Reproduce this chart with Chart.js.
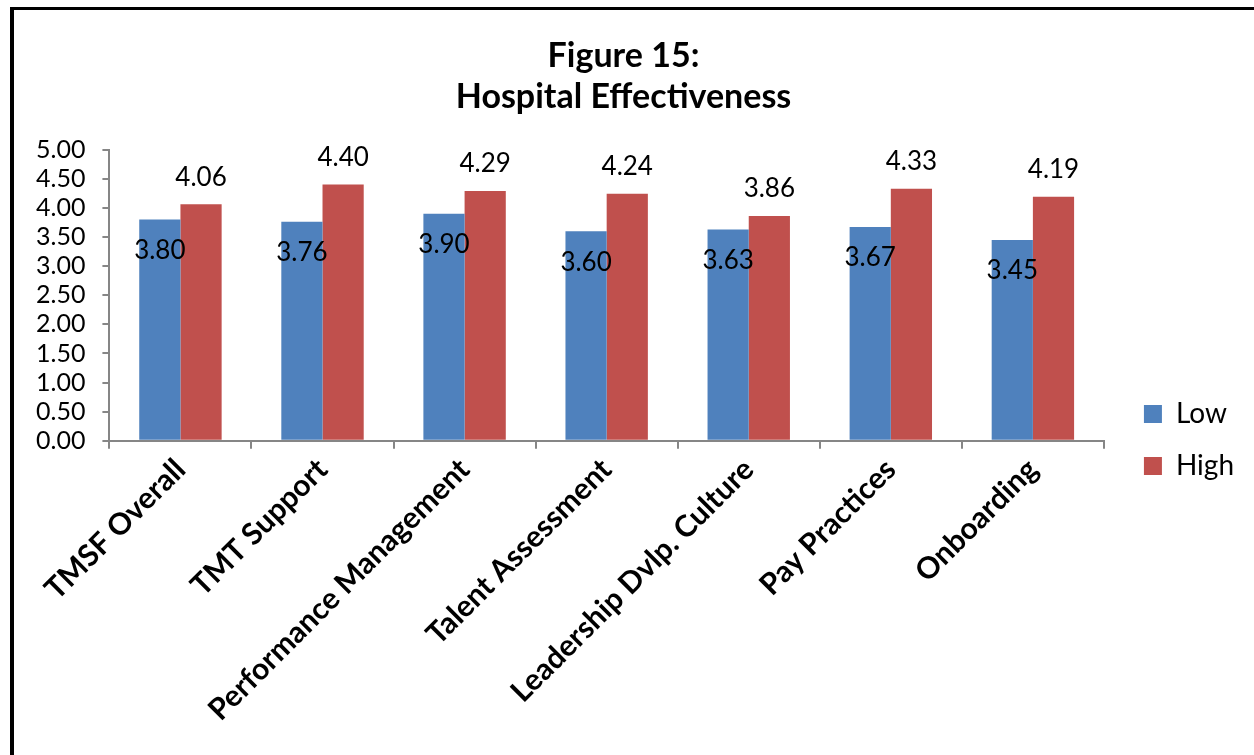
<!DOCTYPE html>
<html>
<head>
<meta charset="utf-8">
<script src="https://cdn.jsdelivr.net/npm/chart.js@4/dist/chart.umd.min.js"></script>
<style>
  body { margin: 0; background: #fff; }
  #frame {
    position: absolute; left: 10px; top: 7px;
    width: 1244px; height: 748px;
    border-top: 3px solid #000; border-left: 4px solid #000;
  }
  #wrap { position: absolute; left: 0; top: 0; width: 1240px; height: 745px; }
</style>
</head>
<body>
<div id="frame"><div id="wrap"><canvas id="myChart"></canvas></div></div>
<script>
var categories = ['TMSF Overall', 'TMT Support', 'Performance Management', 'Talent Assessment',
                  'Leadership Dvlp. Culture', 'Pay Practices', 'Onboarding'];
var lowValues = [3.80, 3.76, 3.90, 3.60, 3.63, 3.67, 3.45];
var highValues = [4.06, 4.40, 4.29, 4.24, 3.86, 4.33, 4.19];
var titleLines = ['Figure 15:', 'Hospital Effectiveness'];

var FONT = 'Lato, "Open Sans", sans-serif';

// draws the value labels (Low below the bar top, High above it)
const valueLabels = {
    id: 'valueLabels',
    afterDatasetsDraw(chart) {
        const ctx = chart.ctx;
        ctx.save();
        ctx.font = '26px ' + FONT;
        ctx.fillStyle = '#000';
        ctx.textAlign = 'center';
        ctx.textBaseline = 'middle';
        chart.data.datasets.forEach(function(ds, i) {
            const meta = chart.getDatasetMeta(i);
            meta.data.forEach(function(bar, j) {
                const off = i == 0 ? 31 : -27;
                ctx.fillText(ds.data[j].toFixed(2), bar.x, bar.y + off);
            });
        });
        ctx.restore();
    }
};

// nudge the legend away from the plot and up, like the original
const legendShift = {
    id: 'legendShift',
    afterLayout(chart) {
        chart.legend.left += 16;
        chart.legend.right += 16;
        chart.legend.top -= 227;
        chart.legend.bottom -= 227;
    }
};

const data = {
    labels: categories,
    datasets: [
        {
            label: 'Low',
            data: lowValues,
            backgroundColor: '#4F81BD',
            categoryPercentage: 0.58,
            barPercentage: 1
        },
        {
            label: 'High',
            data: highValues,
            backgroundColor: '#C0504D',
            categoryPercentage: 0.58,
            barPercentage: 1
        }
    ]
};

const config = {
    type: 'bar',
    data: data,
    plugins: [valueLabels, legendShift],
    options: {
        responsive: true,
        maintainAspectRatio: false,
        animation: false,
        layout: { padding: { left: 5, right: 26, top: 0, bottom: 24 } },
        plugins: {
            title: {
                display: true,
                text: titleLines,
                color: '#000',
                font: { family: FONT, size: 34, weight: 'bold', lineHeight: 1.2 },
                padding: { top: 26, bottom: 32 }
            },
            legend: {
                position: 'right',
                align: 'end',
                labels: {
                    color: '#000',
                    font: { family: FONT, size: 28 },
                    boxWidth: 18,
                    boxHeight: 18,
                    padding: 24
                }
            },
            tooltip: { enabled: false }
        },
        scales: {
            x: {
                grid: {
                    drawOnChartArea: false,
                    color: '#868686',
                    tickLength: 8,
                    lineWidth: 2
                },
                border: { color: '#868686', width: 2 },
                ticks: {
                    color: '#000',
                    font: { family: FONT, size: 30, weight: 'bold' },
                    minRotation: 45,
                    maxRotation: 45,
                    autoSkip: false
                }
            },
            y: {
                min: 0,
                max: 5,
                grid: {
                    drawOnChartArea: false,
                    color: '#868686',
                    tickLength: 7,
                    lineWidth: 2
                },
                border: { color: '#868686', width: 2 },
                ticks: {
                    stepSize: 0.5,
                    autoSkip: false,
                    color: '#000',
                    padding: 17,
                    font: { family: FONT, size: 25 },
                    callback: function(v) { return v.toFixed(2); }
                }
            }
        }
    }
};

new Chart(document.getElementById('myChart'), config);
</script>
</body>
</html>
